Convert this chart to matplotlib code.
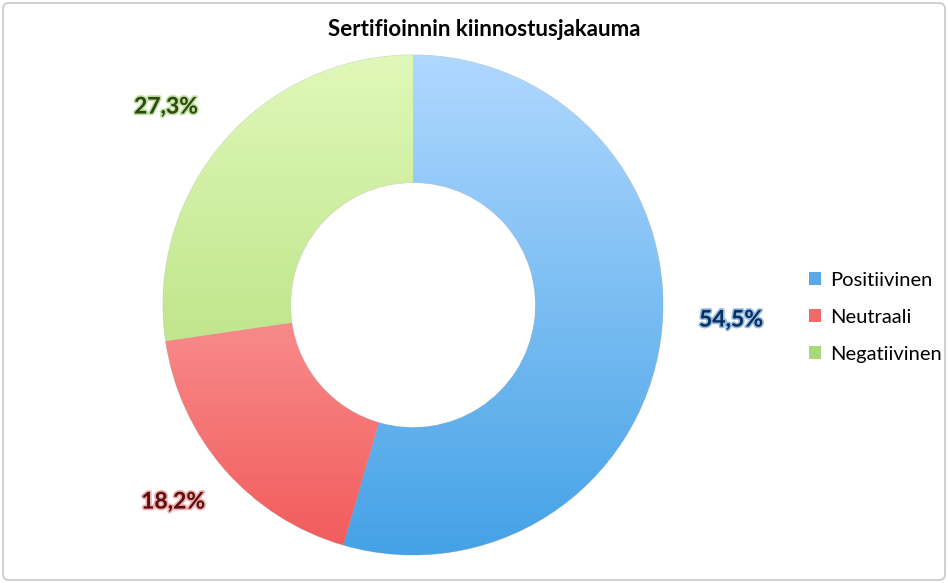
import numpy as np
import matplotlib
matplotlib.use("Agg")
import matplotlib.pyplot as plt
import matplotlib.patheffects as pe
from matplotlib.colors import LinearSegmentedColormap
from matplotlib.patches import FancyBboxPatch, Patch

# data
categories = ['Positiivinen', 'Neutraali', 'Negatiivinen']
shares = [54.5, 18.2, 27.3]
value_labels = ['54,5%', '18,2%', '27,3%']

# styling
top_colors = ['#b0d8ff', '#ffc2c2', '#e0f8b8']
bottom_colors = ['#44a2e6', '#f25a5a', '#a6d86c']
legend_colors = ['#5aa8e8', '#f06a6a', '#a8d878']
text_colors = ['#0a2f5c', '#5a1010', '#2c4a10']
glow_colors = ['#4d8fd0', '#e87878', '#9ccc66']
label_pos = [(731, 263), (173, 81), (166, 476)]

plt.rcParams['font.family'] = ['Lato', 'DejaVu Sans']

fig = plt.figure(figsize=(9.48, 5.83), dpi=100)
ax = fig.add_axes([0, 0, 1, 1])
ax.axis('off')

cx, cy, r = 413, 278, 250
wedges, _ = ax.pie(shares, startangle=90, counterclock=False, center=(cx, cy),
                   radius=r, wedgeprops=dict(width=r * 0.51, edgecolor='#d0d0d0', linewidth=0.6),
                   colors=bottom_colors)
ax.set_aspect('equal')
ax.set_xlim(0, 948)
ax.set_ylim(0, 583)

# vertical gradient fill clipped to each wedge
for w, c1, c2 in zip(wedges, top_colors, bottom_colors):
    cmap = LinearSegmentedColormap.from_list('g', [c2, c1])
    grad = np.linspace(0, 1, 256).reshape(-1, 1)
    im = ax.imshow(grad, cmap=cmap, extent=(cx - r, cx + r, cy - r, cy + r),
                   origin='lower', aspect='auto', zorder=w.get_zorder() + 0.1)
    im.set_clip_path(w)

for txt, pos, tc, gc in zip(value_labels, label_pos, text_colors, glow_colors):
    ax.text(pos[0], pos[1], txt, ha='center', va='center', fontsize=16.5,
            fontweight='bold', color=tc,
            path_effects=[pe.withStroke(linewidth=2.5, foreground=gc, alpha=0.6)])

ax.text(484, 553, 'Sertifioinnin kiinnostusjakauma', ha='center', va='center',
        fontsize=16, fontweight='bold', color='black')

handles = [Patch(facecolor=c, edgecolor='none') for c in legend_colors]
fig.legend(handles, categories, loc='center left', bbox_to_anchor=(0.843, 0.456),
           frameon=False, fontsize=14.5, handlelength=0.6, handleheight=0.6,
           handletextpad=0.45, labelspacing=1.0, borderpad=0)

frame = FancyBboxPatch((3, 3), 942, 577, boxstyle='round,pad=0,rounding_size=6',
                       facecolor='none', edgecolor='#c8c8c8', linewidth=1.2)
ax.add_patch(frame)

fig.savefig('out.png', dpi=100)
